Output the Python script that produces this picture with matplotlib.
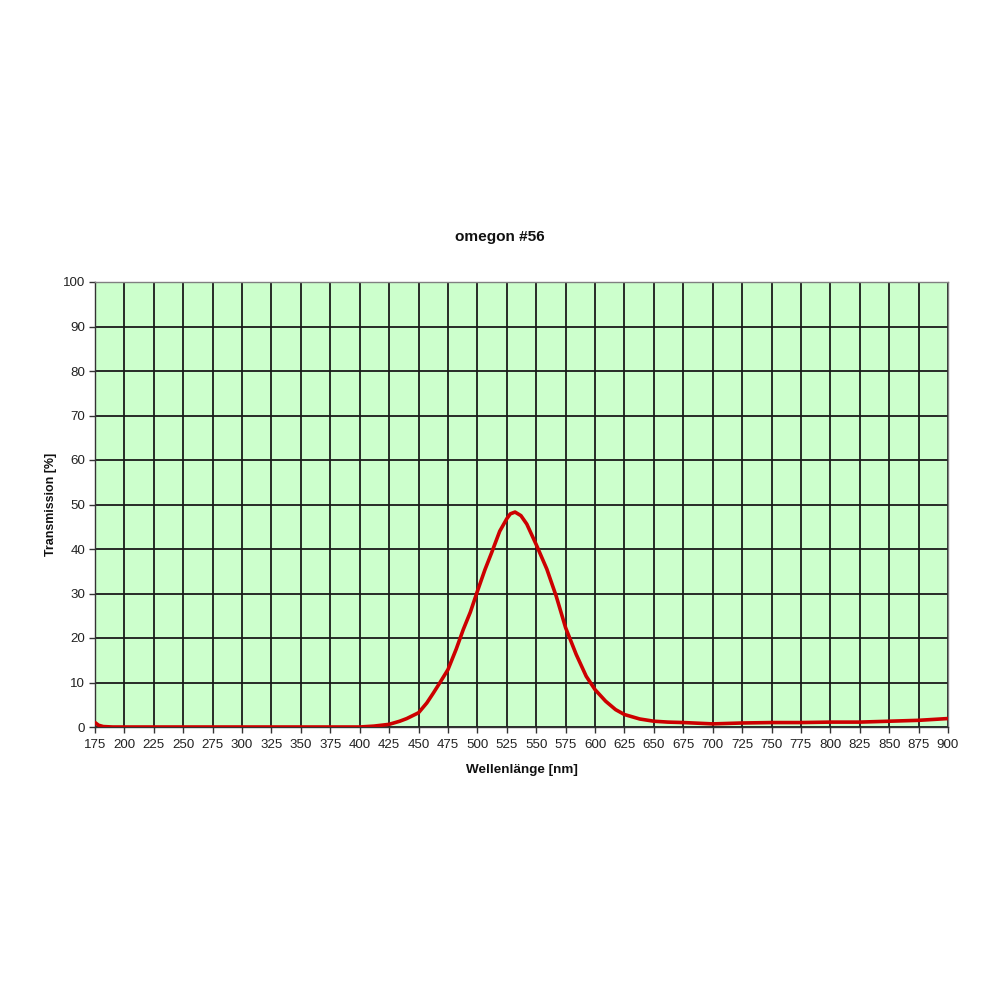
import matplotlib
matplotlib.use("Agg")
import matplotlib.pyplot as plt

# transmission curve (nm, %)
wavelength = [175, 178, 182, 190, 250, 300, 350, 400, 412, 425, 434, 440,
              450, 457, 462.5, 468, 475, 482, 488, 494, 500, 506.5, 512,
              519, 525, 528, 532, 537, 542, 550, 559, 567, 575, 584, 592.5,
              600, 609, 617.5, 625, 638, 650, 662, 675, 700, 725, 750, 775,
              800, 825, 850, 875, 900]
transmission = [1.0, 0.4, 0.1, 0.0, 0.0, 0.0, 0.0, 0.0, 0.2, 0.6, 1.3, 1.9,
                3.2, 5.4, 7.6, 9.9, 12.9, 17.5, 21.9, 25.8, 30.5, 35.4, 39.1,
                44.0, 46.8, 47.9, 48.3, 47.5, 45.6, 41.0, 35.5, 29.4, 22.3,
                16.3, 11.4, 8.4, 5.8, 3.9, 2.8, 1.8, 1.3, 1.1, 1.0, 0.7, 0.9,
                1.0, 1.0, 1.1, 1.1, 1.3, 1.5, 1.9]

x_ticks = list(range(175, 901, 25))
y_ticks = list(range(0, 101, 10))

plt.rcParams["font.family"] = ["Liberation Sans", "DejaVu Sans"]

fig = plt.figure(figsize=(10, 10), dpi=100)
ax = fig.add_axes([0.095, 0.273, 0.853, 0.445])
ax.set_facecolor("#ccffcc")

ax.plot(wavelength, transmission, color="#cc0000", lw=2.6,
        solid_capstyle="round", solid_joinstyle="round", zorder=3)

ax.set_xlim(175, 900)
ax.set_ylim(0, 100)
ax.set_xticks(x_ticks)
ax.set_yticks(y_ticks)
ax.grid(True, color="#1a1a1a", lw=1.3, zorder=1)
ax.set_axisbelow(True)
ax.tick_params(labelsize=9.6, length=4, width=1, color="#333333",
               labelcolor="#222222")
ax.tick_params(axis="x", pad=5)
ax.tick_params(axis="y", pad=3)
for s in ax.spines.values():
    s.set_color("#808080")
    s.set_linewidth(1)
ax.spines["left"].set_color("#333333")
ax.spines["bottom"].set_color("#333333")

ax.set_xlabel("Wellenlänge [nm]", fontsize=9.7, fontweight="bold",
              color="#111111", labelpad=9)
ax.set_ylabel("Transmission [%]", fontsize=8.9, fontweight="bold",
              color="#111111", labelpad=4)
fig.text(0.50, 0.763, "omegon #56", ha="center", va="center",
         fontsize=11.1, fontweight="bold", color="#111111")

fig.savefig("out.png", dpi=100, facecolor="white")
